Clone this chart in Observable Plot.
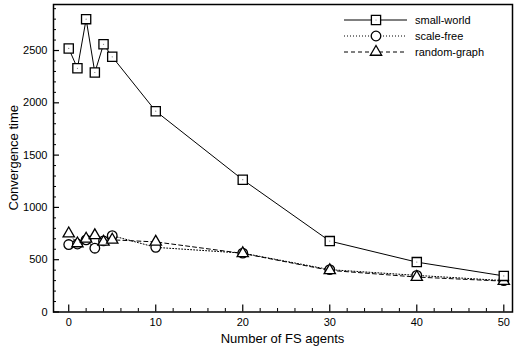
<!DOCTYPE html>
<html><head><meta charset="utf-8">
<script src="https://cdn.jsdelivr.net/npm/d3@7"></script>
<script src="https://cdn.jsdelivr.net/npm/@observablehq/plot@0.6"></script>
<style>body{margin:0;background:#fff}</style>
</head><body><div id="chart"></div>
<script>
const agents = [0, 1, 2, 3, 4, 5, 10, 20, 30, 40, 50];
const smallWorld = [2520, 2330, 2800, 2290, 2560, 2440, 1920, 1265, 678, 477, 345];
const scaleFree = [645, 650, 690, 610, 680, 730, 618, 563, 405, 350, 300];
const randomGraph = [750, 655, 700, 733, 670, 690, 670, 560, 398, 334, 295];
const seriesNames = ["small-world", "scale-free", "random-graph"];
const xMajor = [0, 10, 20, 30, 40, 50];
const xMinor = d3.range(0, 51, 2).filter(v => v % 10 !== 0);
const yMajor = [0, 500, 1000, 1500, 2000, 2500];
const yMinor = d3.range(0, 2950, 100).filter(v => v % 500 !== 0);

const W = 514, H = 349, mL = 53, mR = 2, mT = 4, mB = 37.5;
const fw = W - mL - mR, fh = H - mT - mB;
const font = "'Liberation Sans', Arial, Helvetica, sans-serif";

const rows = (vals) => agents.map((a, i) => ({x: a, y: vals[i]}));
const sw = rows(smallWorld), sf = rows(scaleFree), rg = rows(randomGraph);

const plot = Plot.plot({
  width: W, height: H,
  marginLeft: mL, marginRight: mR, marginTop: mT, marginBottom: mB,
  style: {fontFamily: font, fontSize: "11px", color: "#000", background: "#fff"},
  x: {domain: [-1.75, 51]},
  y: {domain: [0, 2940]},
  marks: [
    Plot.axisX(xMajor, {tickSize: 0, tickPadding: 6, label: null, fontSize: 11, tickFormat: "d"}),
    Plot.axisY(yMajor, {tickSize: 0, tickPadding: 6, label: null, fontSize: 11, tickFormat: "d"}),
    Plot.ruleX(xMajor, {x: d => d, insetTop: fh - 7, stroke: "#000", strokeWidth: 1.2}),
    Plot.ruleX(xMinor, {x: d => d, insetTop: fh - 3.5, stroke: "#000", strokeWidth: 1}),
    Plot.ruleY(yMajor, {y: d => d, insetRight: fw - 6, stroke: "#000", strokeWidth: 1.2}),
    Plot.ruleY(yMinor, {y: d => d, insetRight: fw - 3, stroke: "#000", strokeWidth: 1}),
    Plot.line(rg, {x: "x", y: "y", stroke: "#000", strokeWidth: 1, strokeDasharray: "4,3"}),
    Plot.line(sf, {x: "x", y: "y", stroke: "#000", strokeWidth: 1, strokeDasharray: "1,2"}),
    Plot.line(sw, {x: "x", y: "y", stroke: "#000", strokeWidth: 1}),
    Plot.dot(sf, {x: "x", y: "y", symbol: "circle", r: 4.8, fill: "#fff", stroke: "#000", strokeWidth: 1.3}),
    Plot.dot(rg, {x: "x", y: "y", symbol: "triangle", r: 4.2, fill: "#fff", stroke: "#000", strokeWidth: 1.3}),
    Plot.dot(sw, {x: "x", y: "y", symbol: "square", r: 5.2, fill: "#fff", stroke: "#000", strokeWidth: 1.3}),
    Plot.dot(sw, {x: "x", y: "y", r: 0.6, fill: "#777"}),
    Plot.frame({stroke: "#000", strokeWidth: 1.5})
  ]
});
document.getElementById("chart").appendChild(plot);

const svg = d3.select(plot);
// axis titles
svg.append("text").attr("x", mL + fw / 2).attr("y", 343)
  .attr("text-anchor", "middle").attr("font-family", font).attr("font-size", 13)
  .attr("fill", "#000").text("Number of FS agents");
svg.append("text").attr("transform", `translate(18,${mT + fh / 2}) rotate(-90)`)
  .attr("text-anchor", "middle").attr("font-family", font).attr("font-size", 13)
  .attr("fill", "#000").text("Convergence time");

// legend
const dashes = [null, "1,2", "4,3"];
const symbols = [d3.symbolSquare, d3.symbolCircle, d3.symbolTriangle];
const sizes = [Math.PI * 5.2 * 5.2, Math.PI * 4.8 * 4.8, Math.PI * 4.2 * 4.2];
const lg = svg.append("g");
seriesNames.forEach((name, i) => {
  const y = 20 + i * 16;
  lg.append("line").attr("x1", 344).attr("x2", 407).attr("y1", y).attr("y2", y)
    .attr("stroke", "#000").attr("stroke-width", 1).attr("stroke-dasharray", dashes[i]);
  lg.append("path").attr("d", d3.symbol(symbols[i], sizes[i]))
    .attr("transform", `translate(376,${y})`).attr("fill", "#fff")
    .attr("stroke", "#000").attr("stroke-width", 1.3);
  if (i === 0) lg.append("circle").attr("cx", 376).attr("cy", y).attr("r", 0.6).attr("fill", "#777");
  lg.append("text").attr("x", 415).attr("y", y).attr("dy", "0.35em")
    .attr("text-anchor", "start")
    .attr("font-family", font).attr("font-size", 11).attr("fill", "#000").text(name);
});
</script></body></html>
